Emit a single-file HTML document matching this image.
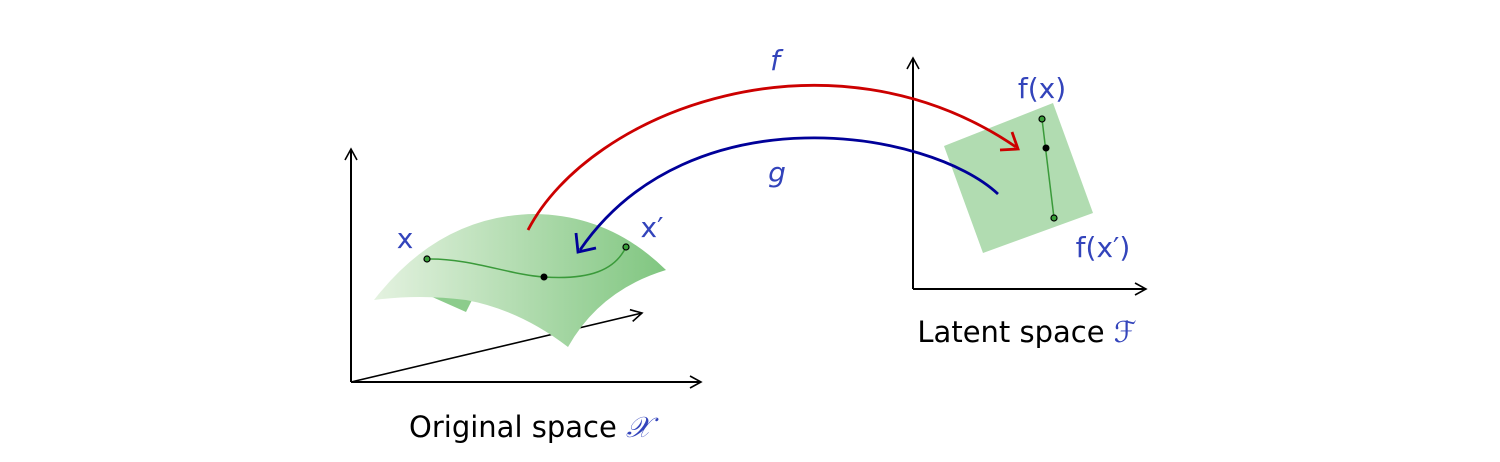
<!DOCTYPE html>
<html><head><meta charset="utf-8"><style>
html,body{margin:0;padding:0;background:#fff;width:1500px;height:462px;overflow:hidden}
text{font-family:"DejaVu Sans","Liberation Sans",sans-serif}
</style></head><body>
<svg width="1500" height="462" viewBox="0 0 1500 462">
<defs>
<linearGradient id="mg" x1="0" x2="1" y1="0" y2="0">
<stop offset="0" stop-color="#e4f2e0"/><stop offset="1" stop-color="#80c680"/></linearGradient>
<marker id="ak" markerWidth="14" markerHeight="14" refX="12" refY="7" orient="auto" markerUnits="userSpaceOnUse"><path d="M1,1 L12,7 L1,13" fill="none" stroke="#000" stroke-width="1.6"/></marker>
</defs>
<g stroke="#000" stroke-width="2" fill="none">
<line x1="351" y1="382" x2="351" y2="149" marker-end="url(#ak)"/>
<line x1="351" y1="382" x2="701" y2="382" marker-end="url(#ak)"/>
<line x1="351" y1="382" x2="642" y2="313" stroke-width="1.6" marker-end="url(#ak)"/>
</g>
<path d="M430,296 L466,312 L472,300 Z" fill="#8ccc8c"/>
<path d="M374,300 Q440,215 535,214 Q610,215 666,270 Q600,290 568,347 Q520,310 466,300 Q420,294 374,300 Z" fill="url(#mg)"/>
<path d="M427,259 C470,258 510,275 544,277 C590,280 615,270 626,247" fill="none" stroke="#3a9a3a" stroke-width="1.5"/>
<circle cx="427" cy="259" r="3" fill="#3aa03a" stroke="#000" stroke-width="1.2"/>
<circle cx="544" cy="277" r="3.5" fill="#000"/>
<circle cx="626" cy="247" r="3" fill="#3aa03a" stroke="#000" stroke-width="1.2"/>
<g stroke="#000" stroke-width="2" fill="none">
<line x1="913" y1="289" x2="913" y2="58" marker-end="url(#ak)"/>
<line x1="913" y1="289" x2="1146" y2="289" marker-end="url(#ak)"/>
</g>
<path d="M944,146 L1053,103 L1093,213 L983,253 Z" fill="#b1dcb1"/>
<line x1="1042" y1="119" x2="1054" y2="218" stroke="#3a9a3a" stroke-width="1.5"/>
<circle cx="1042" cy="119" r="3" fill="#3aa03a" stroke="#000" stroke-width="1.2"/>
<circle cx="1046" cy="148" r="3.5" fill="#000"/>
<circle cx="1054" cy="218" r="3" fill="#3aa03a" stroke="#000" stroke-width="1.2"/>
<path d="M528,230 C590,110 830,20 1016,147" fill="none" stroke="#cc0000" stroke-width="2.8"/>
<path d="M1000,150 L1018,149 L1012,132" fill="none" stroke="#cc0000" stroke-width="2.8"/>
<path d="M998,194 C930,130 690,90 580,250" fill="none" stroke="#000099" stroke-width="2.8"/>
<path d="M576,233 L578,252 L596,248" fill="none" stroke="#000099" stroke-width="2.8"/>
<g fill="#3344bb" font-size="28">
<text x="775" y="70" text-anchor="middle" font-style="italic">f</text>
<text x="777" y="182" text-anchor="middle" font-style="italic">g</text>
<text x="405" y="248" text-anchor="middle">x</text>
<text x="652" y="237" text-anchor="middle">x′</text>
<text x="1042" y="98" text-anchor="middle">f(x)</text>
<text x="1103" y="257" text-anchor="middle">f(x′)</text>
</g>
<text x="530" y="437" text-anchor="middle" font-size="29" fill="#000">Original space <tspan fill="#3344bb" font-style="italic">𝒳</tspan></text>
<text x="1027" y="342" text-anchor="middle" font-size="29" fill="#000">Latent space <tspan fill="#3344bb" font-style="italic">ℱ</tspan></text>
</svg>
</body></html>
